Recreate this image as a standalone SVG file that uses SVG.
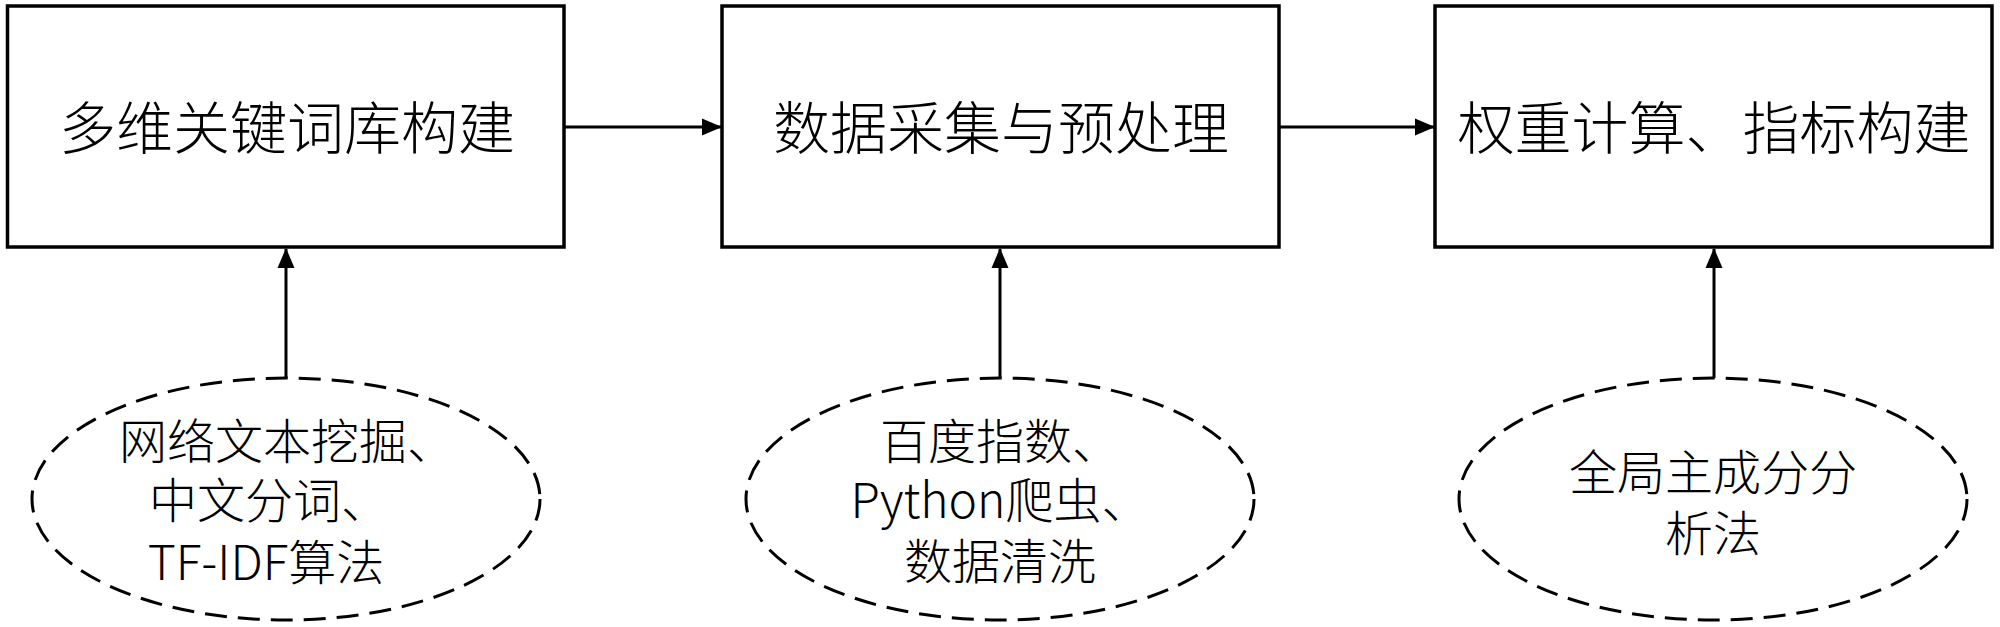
<svg xmlns="http://www.w3.org/2000/svg" width="2000" height="627" viewBox="0 0 2000 627">
<style>
.box{fill:#fff;stroke:#000;stroke-width:3.5}
.ell{fill:#fff;stroke:#000;stroke-width:3;stroke-dasharray:22 11}
.t{font-family:"Noto Sans CJK SC","Microsoft YaHei",sans-serif;font-weight:300;fill:#000;text-anchor:middle}
.bt{font-size:57px}
.et{font-size:48px}
.c{stroke:#000;stroke-width:3;fill:none}
</style>
<defs>
<marker id="ah" markerWidth="20" markerHeight="18" refX="19" refY="9" orient="auto" markerUnits="userSpaceOnUse">
<path d="M0,0.5 L20,9 L0,17.5 Z" fill="#000"/>
</marker>
</defs>
<rect width="2000" height="627" fill="#fff"/>
<g id="box1"><rect class="box" x="7.5" y="6" width="556.5" height="241"/><text class="t bt" x="287" y="149">多维关键词库构建</text></g>
<g id="box2"><rect class="box" x="722" y="6" width="557" height="241"/><text class="t bt" x="1001" y="149">数据采集与预处理</text></g>
<g id="box3"><rect class="box" x="1435" y="6" width="557" height="241"/><text class="t bt" x="1714" y="149">权重计算、指标构建</text></g>
<g id="ell1"><ellipse class="ell" cx="286" cy="499" rx="254" ry="121"/>
<text class="t et"><tspan x="287" y="459">网络文本挖掘、</tspan><tspan x="269" y="518">中文分词、</tspan><tspan x="266" y="580">TF-IDF算法</tspan></text></g>
<g id="ell2"><ellipse class="ell" cx="1000" cy="499" rx="254" ry="121"/>
<text class="t et"><tspan x="1000" y="459">百度指数、</tspan><tspan x="1000" y="518">Python爬虫、</tspan><tspan x="1000" y="579">数据清洗</tspan></text></g>
<g id="ell3"><ellipse class="ell" cx="1713" cy="499" rx="254" ry="121"/>
<text class="t et"><tspan x="1713" y="490">全局主成分分</tspan><tspan x="1713" y="551">析法</tspan></text></g>
<g id="connectors">
<line class="c" x1="564" y1="127" x2="721" y2="127" marker-end="url(#ah)"/>
<line class="c" x1="1279" y1="127" x2="1434" y2="127" marker-end="url(#ah)"/>
<line class="c" x1="286" y1="378" x2="286" y2="249" marker-end="url(#ah)"/>
<line class="c" x1="1000" y1="378" x2="1000" y2="249" marker-end="url(#ah)"/>
<line class="c" x1="1714" y1="378" x2="1714" y2="249" marker-end="url(#ah)"/>
</g>
</svg>
